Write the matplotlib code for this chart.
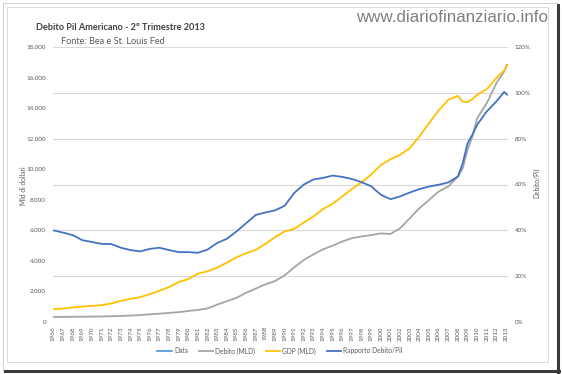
import numpy as np
import matplotlib
matplotlib.use('Agg')
import matplotlib.pyplot as plt
from matplotlib.patches import Rectangle
from matplotlib.lines import Line2D
from matplotlib.ticker import FuncFormatter, MultipleLocator

plt.rcParams['font.family'] = ['Lato', 'DejaVu Sans']

# dati (miliardi di dollari e rapporto in %)
anni = list(range(1966, 2008)) + [2008, 2008.5, 2009, 2009.5, 2010, 2011, 2012, 2012.8, 2013.1]

debito = [330, 335, 340, 345, 352, 362, 377, 395, 420, 450,
          505, 545, 595, 645, 720, 790, 890, 1135, 1360, 1580,
          1910, 2190, 2460, 2680, 3050, 3580, 4060, 4430, 4760, 5000,
          5270, 5490, 5600, 5690, 5800, 5760, 6140, 6790, 7450, 7990,
          8540, 8870, 9520, 10070, 11270, 12140, 13340, 14330, 15640,
          16400, 16840]

pil = [835, 880, 945, 1010, 1055, 1100, 1210, 1385, 1517, 1626,
       1824, 2044, 2286, 2616, 2813, 3165, 3319, 3560, 3883, 4234,
       4498, 4717, 5112, 5551, 5924, 6099, 6516, 6911, 7394, 7745,
       8228, 8710, 9149, 9654, 10280, 10658, 10942, 11379, 12143, 13017,
       13847, 14545, 14808, 14420, 14400, 14589, 14873, 15244, 15965,
       16467, 16795]

rapporto = [40.0, 39.0, 37.9, 35.7, 34.9, 34.1, 34.0, 32.4, 31.4, 30.8,
            31.9, 32.4, 31.4, 30.5, 30.5, 30.2, 31.6, 34.5, 36.3, 39.5,
            43.1, 46.7, 47.8, 48.7, 50.7, 56.3, 60.0, 62.2, 62.9, 63.9,
            63.3, 62.4, 61.0, 59.2, 55.5, 53.6, 54.8, 56.5, 58.0, 59.1,
            59.9, 60.9, 63.5, 69.3, 78.0, 81.7, 86.1, 91.9, 96.3,
            100.4, 99.2]

etichette_anni = list(range(1966, 2014))

grigio_testo = '#595959'

fig = plt.figure(figsize=(5.62, 3.74), dpi=100)
W, H = 562, 374

# cornice esterna con ombra a destra e in basso, poi cornice del grafico
fig.patches.append(Rectangle((2.5 / W, 1 - 370 / H), 554.5 / W, 367.5 / H, transform=fig.transFigure,
                             facecolor='white', edgecolor='#C8C8C8', linewidth=0.6, zorder=-10))
fig.lines.append(Line2D([557.5 / W, 557.5 / W], [1 - 5 / H, 1 - 371.5 / H], transform=fig.transFigure,
                        color='#3a3a3a', linewidth=2.2, zorder=-9))
fig.lines.append(Line2D([5 / W, 558.5 / W], [1 - 371 / H, 1 - 371 / H], transform=fig.transFigure,
                        color='#3a3a3a', linewidth=2.2, zorder=-9))
fig.patches.append(Rectangle((7.3 / W, 1 - 362 / H), 540.7 / W, 354.7 / H, transform=fig.transFigure,
                             facecolor='white', edgecolor='#D9D9D9', linewidth=0.7, zorder=-8))

ax = fig.add_axes([53 / W, 1 - 322 / H, 455 / W, 275 / H])
ax2 = ax.twinx()

ax.plot([], [], color='#5B9BD5', linewidth=1.3, label='Data')
ax.plot(anni, debito, color='#A5A5A5', linewidth=1.3, label='Debito (MLD)')
ax.plot(anni, pil, color='#FFC000', linewidth=1.3, label='GDP (MLD)')
ax2.plot(anni, np.array(rapporto) / 100, color='#4472C4', linewidth=1.3, label='Rapporto Debito/Pil')

ax.set_xlim(1965.95, 2013.2)
ax.set_ylim(0, 18000)
ax2.set_ylim(0, 1.2)

ax.set_yticks(range(0, 18001, 2000))
ax.yaxis.set_major_formatter(FuncFormatter(lambda v, p: f'{v:,.0f}'.replace(',', '.')))
ax2.set_yticks(np.arange(0, 1.21, 0.2))
ax2.yaxis.set_major_formatter(FuncFormatter(lambda v, p: f'{v * 100:.0f}%'))

# griglia ogni 3000 (= 20% sull'asse destro)
ax.yaxis.set_minor_locator(MultipleLocator(3000))
ax.yaxis.remove_overlapping_locs = False
ax.grid(which='minor', axis='y', color='#D9D9D9', linewidth=0.8)
ax.set_axisbelow(True)

ax.set_xticks(etichette_anni)
ax.set_xticklabels([str(a) for a in etichette_anni], rotation=90)

ax.tick_params(axis='y', which='both', length=0, labelsize=4.5, colors=grigio_testo, pad=5)
ax2.tick_params(axis='y', length=0, labelsize=4.5, colors=grigio_testo, pad=5)
ax.tick_params(axis='x', length=0, labelsize=4.5, colors=grigio_testo, pad=3)

for a in (ax, ax2):
    for s in a.spines.values():
        s.set_visible(False)
ax.patch.set_visible(False)

fig.text(23 / W, 1 - 186 / H, 'Mld di dollari', rotation=90, ha='center', va='center',
         fontsize=4.8, color=grigio_testo)
fig.text(537 / W, 1 - 183 / H, 'Debito/Pil', rotation=90, ha='center', va='center',
         fontsize=4.8, color=grigio_testo)

fig.text(36 / W, 1 - 27.5 / H, 'Debito Pil Americano - 2° Trimestre 2013', fontsize=6.6,
         fontweight='bold', color='#404040', va='center')
fig.text(61 / W, 1 - 41.5 / H, 'Fonte: Bea e St. Louis Fed', fontsize=6.6,
         color=grigio_testo, va='center')
fig.text(548 / W, 1 - 18 / H, 'www.diariofinanziario.info', ha='right', va='center',
         fontsize=12.2, color='#808080', family=['Liberation Sans', 'DejaVu Sans'])

h1, l1 = ax.get_legend_handles_labels()
h2, l2 = ax2.get_legend_handles_labels()
fig.legend(h1 + h2, l1 + l2, loc='center', bbox_to_anchor=(280 / W, 1 - 351 / H), ncol=4,
           frameon=False, fontsize=4.8, handlelength=2.2, columnspacing=1.6,
           handletextpad=0.3, labelcolor=grigio_testo)

fig.savefig('out.png', dpi=100)
